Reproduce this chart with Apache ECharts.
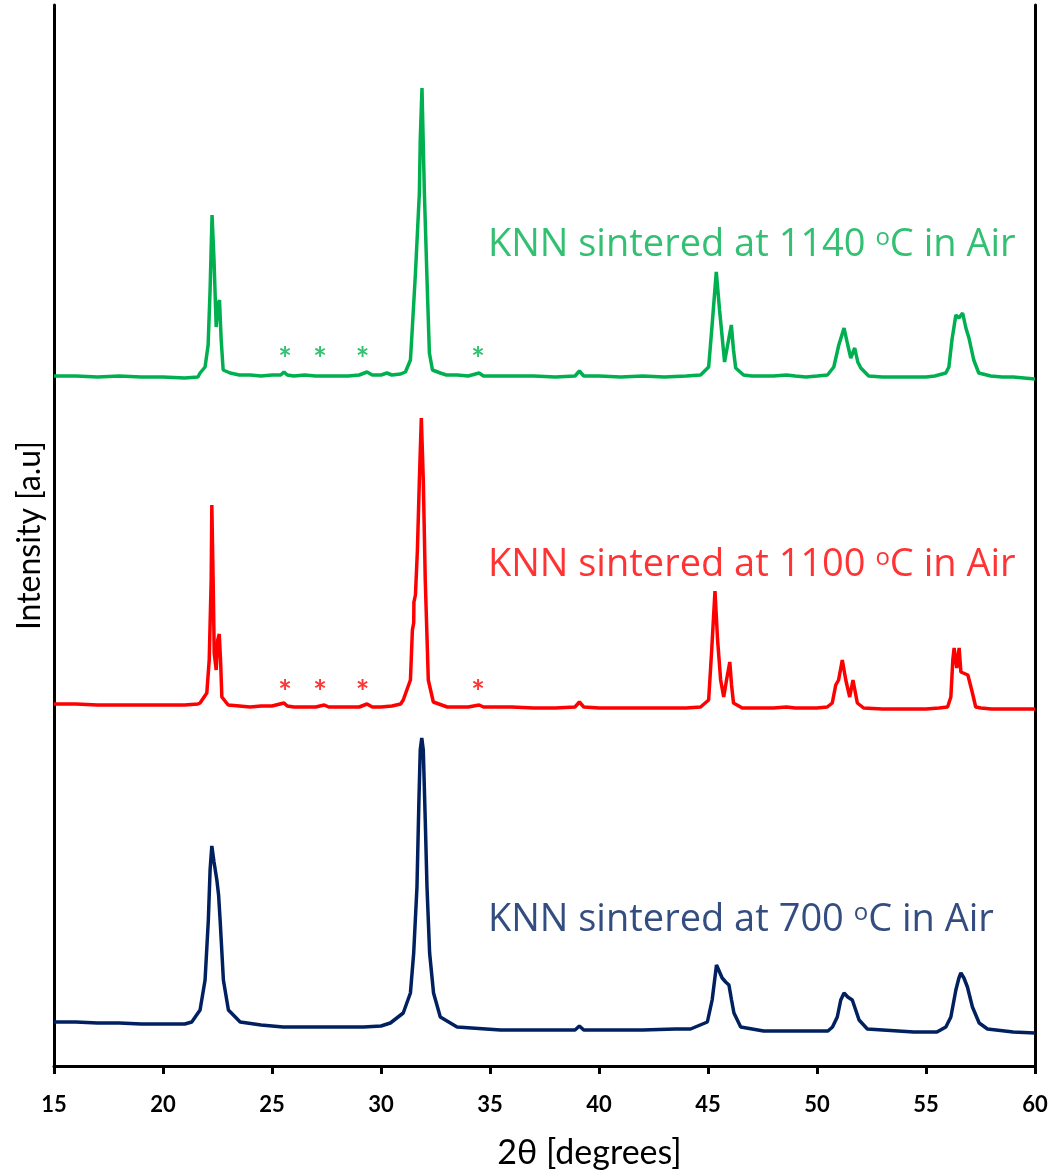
<!DOCTYPE html>
<html>
<head>
<meta charset="utf-8">
<script src="https://cdn.jsdelivr.net/npm/echarts@6/dist/echarts.min.js"></script>
<style>
  html, body { margin: 0; padding: 0; background: #fff; }
  #xrd { width: 1056px; height: 1175px; }
</style>
</head>
<body>
<div id="xrd"></div>
<script>
// 2theta [deg], intensity [a.u, offset per pattern]
var knn1140 = [
  [15, 690], [16, 690], [17, 689], [18, 690], [19, 689], [20, 689], [21, 688], [21.6, 689],
  [21.70, 693], [21.93, 699], [22.07, 721], [22.16, 776], [22.25, 851], [22.34, 806],
  [22.44, 739], [22.52, 761], [22.59, 766], [22.67, 726], [22.76, 696], [23.08, 693],
  [23.5, 691], [24, 691], [24.5, 690], [25, 691], [25.4, 691], [25.55, 694], [25.7, 691],
  [26, 690], [26.5, 691], [27, 690], [27.5, 690], [28, 690], [28.5, 690], [29, 691],
  [29.36, 694], [29.6, 691], [30, 691], [30.27, 693], [30.5, 691], [30.9, 692],
  [31.12, 694], [31.35, 706], [31.44, 739], [31.58, 793], [31.76, 873], [31.80, 926],
  [31.88, 978], [31.99, 873], [32.13, 773], [32.22, 713], [32.36, 696], [32.72, 693],
  [33, 691], [33.5, 691], [34, 690], [34.5, 693], [34.7, 690], [35, 690], [36, 690],
  [37, 690], [38, 689], [38.9, 690], [39.1, 695], [39.3, 690], [40, 690], [41, 689],
  [42, 690], [43, 689], [44, 690], [44.66, 691],
  [45.03, 699], [45.17, 736], [45.38, 794], [45.53, 756], [45.76, 704], [45.90, 721],
  [46.07, 741], [46.17, 716], [46.27, 698], [46.63, 691],
  [47, 690], [48, 690], [48.6, 691], [49, 690], [49.5, 689], [50, 690], [50.48, 691],
  [50.77, 699], [51.0, 721], [51.24, 738], [51.41, 721], [51.55, 708], [51.73, 718],
  [51.87, 704], [52.01, 698], [52.37, 690],
  [53, 689], [54, 689], [55, 689], [55.4, 690], [55.91, 693],
  [56.05, 699], [56.19, 726], [56.37, 751], [56.51, 748], [56.68, 753], [56.83, 738],
  [56.97, 728], [57.19, 706], [57.42, 693], [57.97, 690],
  [58.5, 689], [59, 689], [59.5, 688], [60, 687]
];

var knn1100 = [
  [15, 362], [16, 362], [17, 361], [18, 361], [19, 361], [20, 361], [21, 361], [21.6, 362],
  [21.70, 363], [22.01, 373], [22.12, 406], [22.21, 486], [22.24, 561], [22.30, 486],
  [22.35, 413], [22.44, 396], [22.51, 426], [22.58, 432], [22.64, 406], [22.70, 369],
  [22.99, 361],
  [23.5, 360], [24, 359], [24.5, 360], [25, 360], [25.55, 363], [25.7, 360], [26, 359],
  [26.5, 359], [27, 359], [27.4, 361], [27.6, 359], [28, 359], [28.5, 359], [29, 359],
  [29.36, 362], [29.6, 359], [30, 359], [30.5, 360], [30.9, 362],
  [31.02, 366], [31.35, 386], [31.44, 436], [31.50, 443], [31.51, 464], [31.58, 471],
  [31.67, 516], [31.76, 586], [31.85, 648], [31.94, 586], [32.03, 486], [32.17, 386],
  [32.40, 364], [33.04, 359],
  [33.5, 359], [34, 359], [34.5, 361], [34.7, 359], [35, 359], [36, 359], [37, 358],
  [38, 358], [38.9, 359], [39.1, 364], [39.3, 359], [40, 358], [41, 358], [42, 358],
  [43, 358], [44, 358], [44.66, 359],
  [45.03, 366], [45.17, 416], [45.32, 475], [45.44, 426], [45.58, 386], [45.72, 369],
  [45.85, 386], [46.0, 404], [46.08, 381], [46.17, 363], [46.57, 358],
  [47, 358], [48, 358], [48.6, 359], [49, 358], [50, 358], [50.47, 359],
  [50.70, 363], [50.86, 381], [50.99, 386], [51.16, 406], [51.32, 386], [51.50, 369],
  [51.65, 386], [51.85, 363], [52.14, 358],
  [53, 357], [54, 357], [55, 357], [55.6, 358], [55.99, 359],
  [56.14, 369], [56.23, 406], [56.29, 418], [56.41, 398], [56.52, 418], [56.60, 394],
  [56.92, 391], [57.13, 373], [57.28, 359], [57.52, 358],
  [58, 357], [59, 357], [60, 357]
];

var knn700 = [
  [15, 44], [16, 44], [17, 43], [18, 43], [19, 42], [20, 42], [21, 42], [21.32, 44],
  [21.70, 56], [21.93, 86], [22.08, 146], [22.16, 196], [22.24, 220], [22.34, 204],
  [22.47, 186], [22.55, 171], [22.62, 146], [22.77, 86], [23.0, 56], [23.54, 44],
  [24.5, 41], [25.51, 39], [27, 39], [28.5, 39], [29.2, 39], [30, 40],
  [30.43, 43], [31.02, 53], [31.35, 73], [31.50, 113], [31.65, 179], [31.74, 266],
  [31.80, 316], [31.87, 328], [31.94, 316], [32.03, 246], [32.11, 179], [32.23, 113],
  [32.41, 73], [32.72, 49], [33.49, 39], [35.48, 36],
  [37, 36], [38.9, 36], [39.1, 40], [39.3, 36], [40, 36], [42, 36], [43.5, 37], [44.20, 37],
  [44.97, 44], [45.19, 66], [45.39, 101], [45.53, 94], [45.65, 88], [45.81, 84],
  [45.96, 81], [46.08, 66], [46.19, 53], [46.50, 39], [47.55, 35],
  [49, 35], [50.5, 35], [50.71, 39],
  [50.93, 49], [51.09, 66], [51.24, 73], [51.41, 69], [51.62, 66], [51.93, 46],
  [52.31, 37], [54.44, 34], [55.5, 34], [55.91, 39],
  [56.14, 49], [56.37, 76], [56.51, 88], [56.60, 93], [56.74, 88], [56.90, 79],
  [57.13, 59], [57.44, 43], [57.82, 37],
  [59, 34], [60, 33]
];

// curve annotations: [2theta, intensity] of the left end of each caption
var captionPos = [[34.88, 821], [34.88, 501], [34.88, 146]];
var captionText = [
  'KNN sintered at 1140 {s|o}C in Air',
  'KNN sintered at 1100 {s|o}C in Air',
  'KNN sintered at 700 {s|o}C in Air'
];

// secondary phase markers (*)
var starX = [25.6, 27.2, 29.15, 34.45];
var starY1140 = 705;
var starY1100 = 372;

var colors = ['#00b050', '#ff0000', '#002060'];

var dom = document.getElementById('xrd');
var myChart = echarts.init(dom);

function caption(i) {
  return {
    type: 'scatter',
    symbolSize: 1,
    itemStyle: { color: 'rgba(0,0,0,0)' },
    silent: true,
    data: [captionPos[i]],
    label: {
      show: true,
      position: 'right',
      distance: 0,
      formatter: captionText[i],
      fontFamily: 'Open Sans',
      fontSize: 38,
      color: colors[i],
      rich: {
        s: { fontFamily: 'Open Sans', fontSize: 24, color: colors[i], verticalAlign: 'top', lineHeight: 36 }
      }
    }
  };
}

function stars(y, color) {
  return {
    type: 'scatter',
    symbolSize: 1,
    itemStyle: { color: 'rgba(0,0,0,0)' },
    silent: true,
    data: starX.map(function (x) { return [x, y]; }),
    label: {
      show: true,
      position: 'inside',
      formatter: '*',
      fontFamily: 'Lato',
      fontWeight: 'bold',
      fontSize: 32,
      color: color
    }
  };
}

function pattern(data, color) {
  return {
    type: 'line',
    data: data,
    showSymbol: false,
    symbol: 'none',
    lineStyle: { color: color, width: 3.5 },
    z: 3
  };
}

var option = {
  animation: false,
  backgroundColor: '#fff',
  grid: { left: 54, right: 21, top: 5, bottom: 109 },
  xAxis: [
    {
      type: 'value',
      min: 15,
      max: 60,
      interval: 5,
      name: '2\u03b8 [degrees]',
      nameLocation: 'middle',
      nameGap: 70,
      nameTextStyle: { fontFamily: 'Lato', fontSize: 34, color: '#000', padding: [0, 0, 0, 90] },
      axisLine: { lineStyle: { color: '#000', width: 3 } },
      axisTick: { inside: false, length: 8, lineStyle: { color: '#000', width: 3 } },
      axisLabel: { margin: 28, fontFamily: 'Lato', fontWeight: 'bold', fontSize: 22, color: '#000' },
      splitLine: { show: false }
    },
    {
      type: 'value',
      min: 15,
      max: 60,
      position: 'top',
      axisLine: { show: true, lineStyle: { color: '#000', width: 2 } },
      axisTick: { show: false },
      axisLabel: { show: false },
      splitLine: { show: false }
    }
  ],
  yAxis: [
    {
      type: 'value',
      min: 0,
      max: 1061,
      name: 'Intensity [a.u]',
      nameLocation: 'middle',
      nameGap: 8,
      nameTextStyle: { fontFamily: 'Lato', fontSize: 32, color: '#000' },
      axisLine: { show: true, lineStyle: { color: '#000', width: 3 } },
      axisTick: { show: false },
      axisLabel: { show: false },
      splitLine: { show: false }
    },
    {
      type: 'value',
      min: 0,
      max: 1061,
      position: 'right',
      axisLine: { show: true, lineStyle: { color: '#000', width: 3 } },
      axisTick: { show: false },
      axisLabel: { show: false },
      splitLine: { show: false }
    }
  ],
  series: [
    pattern(knn1140, colors[0]),
    pattern(knn1100, colors[1]),
    pattern(knn700, colors[2]),
    stars(starY1140, colors[0]),
    stars(starY1100, colors[1]),
    caption(0),
    caption(1),
    caption(2)
  ]
};

if (option && typeof option === 'object') {
  myChart.setOption(option, true);
}
</script>
</body>
</html>
